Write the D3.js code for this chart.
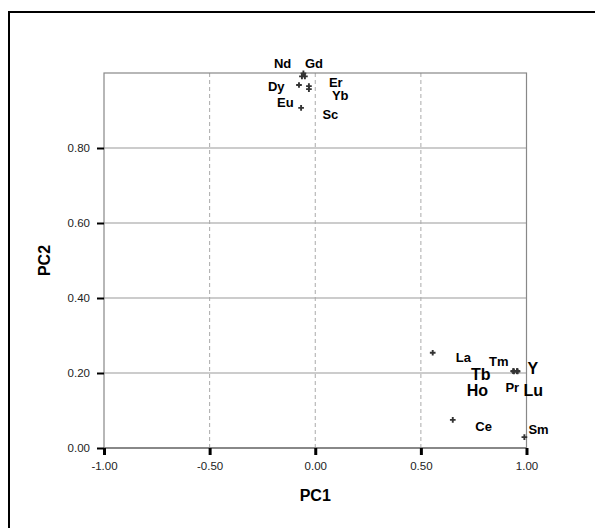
<!DOCTYPE html>
<html><head><meta charset="utf-8">
<script src="https://cdn.jsdelivr.net/npm/d3@7"></script>
<style>
html,body{margin:0;padding:0;background:#fff;}
svg{display:block;font-family:"Liberation Sans",Arial,sans-serif;}
</style></head>
<body>
<svg id="chart" width="595" height="528"></svg>
<script>
// ---- data ----
const elements = ["Nd","Gd","Sc","Dy","Er","Yb","Eu","La","Tm","Tb","Ho","Pr","Y","Lu","Ce","Sm"];
const pc1 = [-0.063,-0.049,-0.056,-0.077,-0.030,-0.030,-0.067,0.556,0.938,0.938,0.940,0.955,0.957,0.957,0.651,0.990];
const pc2 = [0.991,0.991,0.999,0.968,0.965,0.957,0.907,0.254,0.205,0.205,0.204,0.205,0.205,0.204,0.075,0.029];
const xTicks = [-1.0,-0.5,0.0,0.5,1.0];
const yTicks = [0.0,0.2,0.4,0.6,0.8];
const xTitle = "PC1", yTitle = "PC2";

// ---- layout (label nudges in px, label sizes) ----
const labelNudge = {
  Nd:[-28,-8.5], Gd:[0,-8.5], Sc:[19,46], Dy:[-31,6], Er:[20,0.5], Yb:[23,10.8], Eu:[-24,-1.3],
  La:[23,9.6], Tm:[-24.3,-5.3], Y:[10,2.4], Tb:[-42.3,8.7], Pr:[-11.6,21], Lu:[6,24.2],
  Ho:[-47,24.2], Ce:[22.6,10.7], Sm:[4,-3]
};
const bigLabels = new Set(["Tb","Ho","Y","Lu"]);

const svg = d3.select("#chart");
// outer frame (left & top visible)
svg.append("rect").attr("x",9).attr("y",12).attr("width",640).attr("height",600)
  .attr("fill","none").attr("stroke","#000").attr("stroke-width",2);

const x = d3.scaleLinear().domain([-1,1]).range([104,526.5]);
const y = d3.scaleLinear().domain([0,1]).range([448,73]);

const g = svg.append("g");
// horizontal gridlines (solid)
g.selectAll("line.hg").data(yTicks.filter(d=>d>0)).join("line")
  .attr("x1",x(-1)).attr("x2",x(1)).attr("y1",d=>y(d)).attr("y2",d=>y(d))
  .attr("stroke","#999").attr("stroke-width",1);
// vertical gridlines (dashed)
g.selectAll("line.vg").data(xTicks.filter(d=>d>-1&&d<1)).join("line")
  .attr("y1",y(0)).attr("y2",y(1)).attr("x1",d=>x(d)).attr("x2",d=>x(d))
  .attr("stroke","#aaa").attr("stroke-width",1).attr("stroke-dasharray","4,3");
// plot frame
g.append("rect").attr("x",x(-1)).attr("y",y(1)).attr("width",x(1)-x(-1)).attr("height",y(0)-y(1))
  .attr("fill","none").attr("stroke","#888").attr("stroke-width",1.2);
g.append("line").attr("x1",x(-1)).attr("x2",x(1)).attr("y1",y(0)).attr("y2",y(0))
  .attr("stroke","#888").attr("stroke-width",1.8);

// axes
const fmt = d => d3.format(".2f")(d).replace("\u2212","-");
const xAxis = d3.axisBottom(x).tickValues(xTicks).tickFormat(fmt).tickSize(7).tickPadding(7);
const yAxis = d3.axisLeft(y).tickValues(yTicks).tickFormat(fmt).tickSize(7).tickPadding(7);
const gx = svg.append("g").attr("transform",`translate(0,${y(0)})`).call(xAxis);
const gy = svg.append("g").attr("transform",`translate(${x(-1)},0)`).call(yAxis);
[gx,gy].forEach(a=>{
  a.select(".domain").remove();
  a.selectAll("text").attr("font-size",11.5).attr("fill","#222").attr("font-family","Liberation Sans, Arial, sans-serif");
});
gx.selectAll(".tick line").attr("stroke","#000").attr("stroke-width",3);
gy.selectAll(".tick line").attr("stroke","#000").attr("stroke-width",2);

// axis titles
svg.append("text").attr("x",x(0)).attr("y",501).attr("text-anchor","middle")
  .attr("font-weight","bold").attr("font-size",16).text(xTitle);
svg.append("text").attr("transform",`translate(50,${(y(0)+y(1))/2}) rotate(-90)`)
  .attr("text-anchor","middle").attr("font-weight","bold").attr("font-size",16).text(yTitle);

// points
const data = elements.map((e,i)=>({e, v1:pc1[i], v2:pc2[i]}));
const sym = d3.symbol().type(d3.symbolCross).size(18);
svg.append("g").selectAll("path").data(data).join("path")
  .attr("d",sym).attr("transform",d=>`translate(${x(d.v1)},${y(d.v2)})`)
  .attr("fill","#333");

// labels
svg.append("g").selectAll("text").data(data).join("text")
  .attr("x",d=>x(d.v1)+labelNudge[d.e][0])
  .attr("y",d=>y(d.v2)+labelNudge[d.e][1])
  .attr("font-weight","bold")
  .attr("font-size",d=>bigLabels.has(d.e)?16:13)
  .attr("fill","#000")
  .text(d=>d.e);
</script>
</body></html>
